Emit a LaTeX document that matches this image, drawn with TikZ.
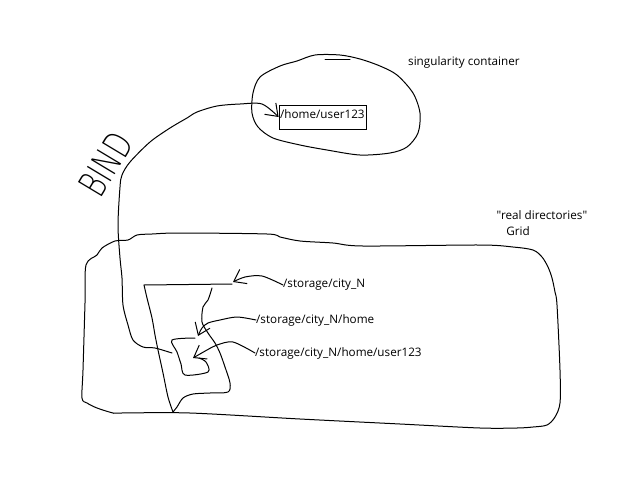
\documentclass[tikz,border=0pt]{standalone}
\usepackage{fontspec}
\setmainfont{Open Sans}[Ligatures=TeXOff]
\newfontfamily\bindfont{DejaVu Sans ExtraLight}
\usetikzlibrary{arrows.meta}
\begin{document}
\begin{tikzpicture}[x=1pt,y=-1pt,
  sketch/.style={line width=1pt, line join=round, line cap=round},
  lbl/.style={font=\fontsize{11.7}{13}\selectfont, inner sep=0pt, anchor=west},
  barb/.style={-{Straight Barb[length=11pt,width=16pt,line width=1pt]}}]
\useasboundingbox[fill=white] (0,0) rectangle (640,480);

% labels
\node[lbl] (sing) at (408,62) {singularity container};
\node[draw, line width=0.8pt, minimum width=87pt, minimum height=24pt, inner sep=0pt] (hbox) at (322.5,117) {};
\node[lbl] (home) at (280,114) {/home/user123};
\node[lbl, anchor=center] (real) at (542,215) {\char34 real directories\char34};
\node[lbl, anchor=center] (grid) at (518,231) {Grid};
\node[lbl] (city) at (283,285) {/storage/city\_N};
\node[lbl] (cityhome) at (256,320) {/storage/city\_N/home};
\node[lbl] (cityuser) at (255,353) {/storage/city\_N/home/user123};
\node[rotate=59, inner sep=0pt] (bind) at (106,164) {\bindfont\fontsize{38}{38}\selectfont\scalebox{0.7}[1]{BIND}};

% singularity container outline
\draw[sketch] plot[smooth cycle] coordinates {(297,61)(315,55)(340,55)(360,59)(380,66)(397,75)(413,93)(420,113)(418,133)(407,147)(390,153)(360,155)(327,150)(300,145)(273,138)(258,127)(252,113)(253,93)(260,77)(280,66)};
\draw[sketch] (325,59) -- (350,59);

% grid outline
\draw[sketch] plot[smooth cycle] coordinates {(85,303)(86,265)(97,255)(102,248)(115,241)(128,240)(137,235)(152,234)(180,233)(267,234)(280,237)(300,241)(333,243)(363,246)(480,245)(513,247)(533,250)(542,257)(548,267)(552,278)(555,292)(557,305)(560,370)(560,403)(555,417)(547,425)(533,427)(517,428)(480,428)(400,424)(300,419)(190,413)(120,413)(113,413)(97,408)(87,403)(82,398)(83,370)};

% city_N region
\draw[sketch] plot[smooth] coordinates {(144,285)(147,298)(152,318)(155,335)(158,350)(163,373)(168,397)(173,412)};
\draw[sketch] (144,285) -- (232,284);
\draw[sketch] plot[smooth] coordinates {(212,288)(208,300)(203,307)(202,322)(208,333)(215,343)(220,353)(225,367)(230,383)(228,392)(210,393)(193,394)(183,398)(177,407)(173,412)};

% home / user123 region (spiral)
\draw[sketch] plot[smooth] coordinates {(195,338)(172,340)(177,352)(181,364)(185,375)(208,372)(206,362)(199,358)};

% free ends of connectors
\coordinate (tcity) at (233,282);
\coordinate (thome) at (198,336);
\coordinate (tuser) at (193,358);
\coordinate (bindstart) at (172,353);

\draw[sketch, barb] plot[smooth] coordinates {(city.west)(262,276)(245,277)(tcity)};
\draw[sketch, barb] plot[smooth] coordinates {(cityhome.west)(237,317)(220,320)(208,323)(202,328)(thome)};
\draw[sketch, barb] plot[smooth] coordinates {(cityuser.west)(233,342)(217,345)(207,350)(tuser)};

% BIND connector
\draw[sketch, barb] plot[smooth] coordinates {(bindstart)(155,348)(143,347)(133,340)(128,325)(123,305)(122,278)(120,258)(118,225)(120,187)(122,175)(130,162)(150,142)(170,128)(187,118)(197,112)(217,106)(240,104)(262,104)(hbox.west)};
\end{tikzpicture}
\end{document}
